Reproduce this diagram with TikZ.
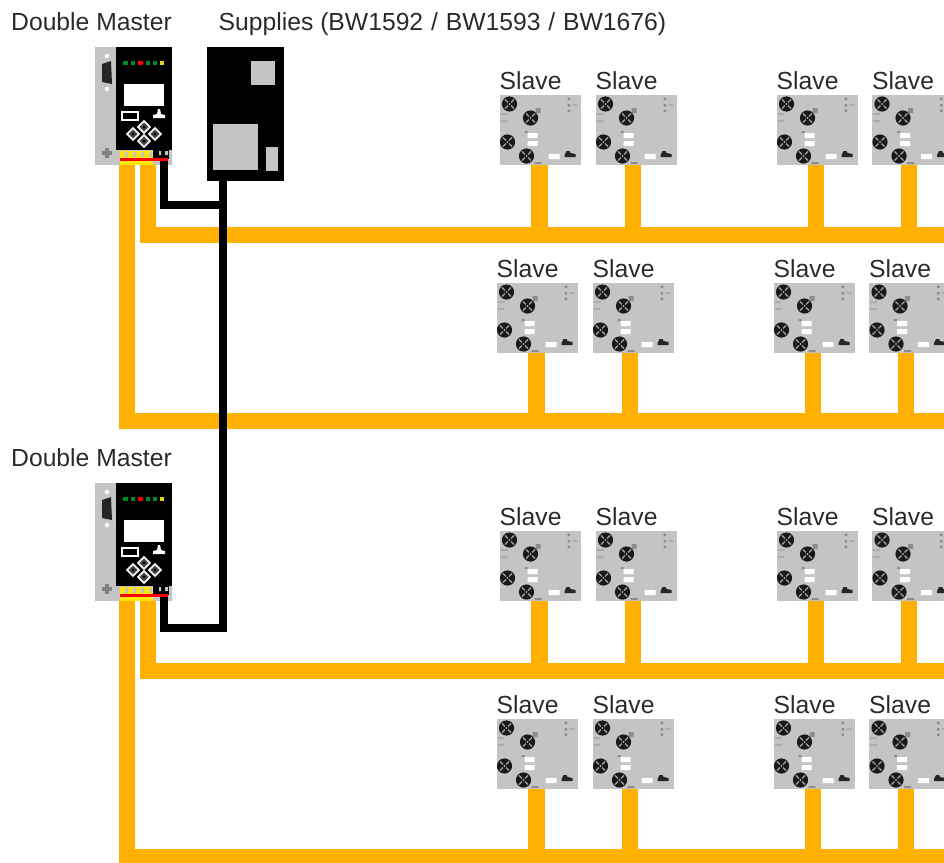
\documentclass[tikz,border=0pt]{standalone}
\usepackage{fontspec}
\usetikzlibrary{calc}
\setmainfont{Liberation Sans}
\definecolor{busorange}{HTML}{FFB000}
\definecolor{unitgrey}{HTML}{C4C4C4}
\definecolor{txt}{HTML}{2A2A2A}
\definecolor{ledgreen}{HTML}{008A20}
\tikzset{
  x=1pt,y=-1pt,
  lbl/.style={inner sep=0pt,anchor=base west,text=txt,font=\fontsize{24.7}{26}\selectfont},
  bus/.style={draw=busorange,line width=16.4pt,miter limit=10},
  cable/.style={draw=black,line width=8pt},
  shell/.style={fill=unitgrey,draw=none,inner sep=0pt,minimum width=#1,minimum height=70pt,anchor=north west},
  shell/.default=81pt,
  knob/.pic={
    \fill[black!90] (0,0) circle (7.6);
    \draw[black!35,line width=1.1pt] (-4.6,-4.6) -- (-1.6,-1.6) (4.6,4.6) -- (1.6,1.6) (-4.6,4.6) -- (-1.6,1.6) (4.6,-4.6) -- (1.6,-1.6);
    \fill[black!35] (0,0) circle (1.1);
  },
  keydiamond/.pic={
    \draw[white,line width=1.7pt,fill=black!70] (-6,0) -- (0,-6) -- (6,0) -- (0,6) -- cycle;
    \fill[black] (0,0) circle (1.6);
  },
  slave/.pic={
    \node[shell] (-box) at (0,0) {};
    \coordinate (-tap) at (#1,70);
    \node[lbl] (-label) at (0,-5.5) {Slave};
    \pic at (10,9) {knob};
    \pic at (31,23) {knob};
    \pic at (8,47) {knob};
    \pic at (27,61) {knob};
    \fill[white] (28,38) rectangle (38,43) (28,46) rectangle (38,51) (49,59) rectangle (60,64);
    \fill[black!85] (65,60) -- (67,56) -- (70,56) -- (71,58) -- (76,59) -- (76,62) -- (65,62) -- cycle;
    \fill[black!45] (68,2.5) rectangle (70.5,5) (68,9) rectangle (70.5,11.5) (68,14.5) rectangle (70.5,17)
       (36,13) rectangle (41,18) (25,36) rectangle (28,38) (35,67) rectangle (42,69);
    \fill[black!32] (73,9) rectangle (78,11) (1,18) rectangle (8,20) (1,25) rectangle (8,27);
  },
  master/.pic={
    \fill[unitgrey] (0,0) rectangle (77,118);
    \node[fill=black,inner sep=0pt,minimum width=56pt,minimum height=103pt,anchor=north west] (-body) at (21,0) {};
    \foreach \lx/\lc in {30.5/ledgreen,38/ledgreen,45.5/red,53/ledgreen,60/ledgreen,67/yellow!85!black}
      \fill[\lc] (\lx-2.4,13.6) rectangle (\lx+2.4,18.4);
    \fill[black!85] (7,17) -- (16,14) -- (17,37) -- (7,35) -- cycle;
    \fill[white] (12,9) circle (2.2) (12,42) circle (2.2);
    \fill[white] (29,37) rectangle (69,59);
    \draw[white,line width=2.4pt] (27,65) rectangle (43,73);
    \fill[white] (63,62) -- (65,62) -- (66,67) -- (70,68) -- (70,71) -- (58,71) -- (58,68) -- (62,67) -- cycle;
    \pic at (49,80) {keydiamond};
    \pic at (38,87) {keydiamond};
    \pic at (60,87) {keydiamond};
    \pic at (49,94) {keydiamond};
    \draw[black!50,line width=3.2pt] (7,106) -- (17,106) (12,101) -- (12,111);
    \fill[yellow!90!orange] (25,104) rectangle (58,118);
    \fill[unitgrey] (30,105) rectangle (33,110) (38,105) rectangle (41,110) (46,105) rectangle (49,110) (54,105) rectangle (57,110);
    \fill[black] (58,103) rectangle (74,112);
    \fill[unitgrey] (64,104) rectangle (66,108) (70,104) rectangle (73,108) (74,103) rectangle (77,118);
    \fill[red] (25,111) rectangle (73,114);
    \coordinate (-busA) at (32,118);
    \coordinate (-busB) at (53,118);
    \coordinate (-power) at (69,114);
  },
}
\begin{document}
\begin{tikzpicture}
\useasboundingbox (0,0) rectangle (944,862);
\clip (0,0) rectangle (944,862);
\node[lbl] (t1) at (11,30) {Double Master};
\node[lbl] (t2) at (218.5,30) {Supplies (BW1592\kern1pt\ /\ \kern1ptBW1593\kern1pt\ /\ \kern1ptBW1676)};
\node[lbl] (t3) at (11,466) {Double Master};

\pic (m1) at (95,47) {master};
\pic (m2) at (95,483) {master};

\node[fill=black,inner sep=0pt,minimum width=77pt,minimum height=134pt,anchor=north west] (sup) at (207,47) {};
\node[fill=unitgrey,inner sep=0pt,minimum width=24pt,minimum height=24pt,anchor=north west] (supa) at (251,61) {};
\node[fill=unitgrey,inner sep=0pt,minimum width=45pt,minimum height=46pt,anchor=north west] (supb) at (213,124) {};
\node[fill=unitgrey,inner sep=0pt,minimum width=12pt,minimum height=24pt,anchor=north west] (supc) at (266,147) {};
\coordinate (supout) at (223,181);

% slaves
\foreach \nm/\sx/\tp in {a/499.5/40,b/595.5/37.5,c/776.5/39.5,d/872/37}{
  \pic (r1\nm) at (\sx,95) {slave=\tp};
  \pic (r2\nm) at (\sx-3,283) {slave=\tp};
  \pic (r3\nm) at (\sx,531) {slave=\tp};
  \pic (r4\nm) at (\sx-3,719) {slave=\tp};
}

\coordinate (end1) at (950,235);
\coordinate (end2) at (950,421);
\coordinate (end3) at (950,671);
\coordinate (end4) at (950,857);

% orange buses
\foreach \nm in {a,b,c,d}{
  \draw[bus] (r1\nm-tap) -- (r1\nm-tap |- end1);
  \draw[bus] (r2\nm-tap) -- (r2\nm-tap |- end2);
  \draw[bus] (r3\nm-tap) -- (r3\nm-tap |- end3);
  \draw[bus] (r4\nm-tap) -- (r4\nm-tap |- end4);
}
\draw[bus] (m1-busB) -- (m1-busB |- end1) -- (end1);
\draw[bus] (m1-busA) -- (m1-busA |- end2) -- (end2);
\draw[bus] (m2-busB) -- (m2-busB |- end3) -- (end3);
\draw[bus] (m2-busA) -- (m2-busA |- end4) -- (end4);

% black supply cable
\coordinate (bend2) at (223,628);
\draw[cable] (supout) -- (bend2) -- (m2-power |- bend2) -- (m2-power);
\draw[cable] (m1-power) -- (m1-power |- 0,205) -- (supout |- 0,205);
\fill[red] ($(m1-power)+(-44,-3)$) rectangle ($(m1-power)+(4,0)$);
\fill[red] ($(m2-power)+(-44,-3)$) rectangle ($(m2-power)+(4,0)$);
\end{tikzpicture}
\end{document}
